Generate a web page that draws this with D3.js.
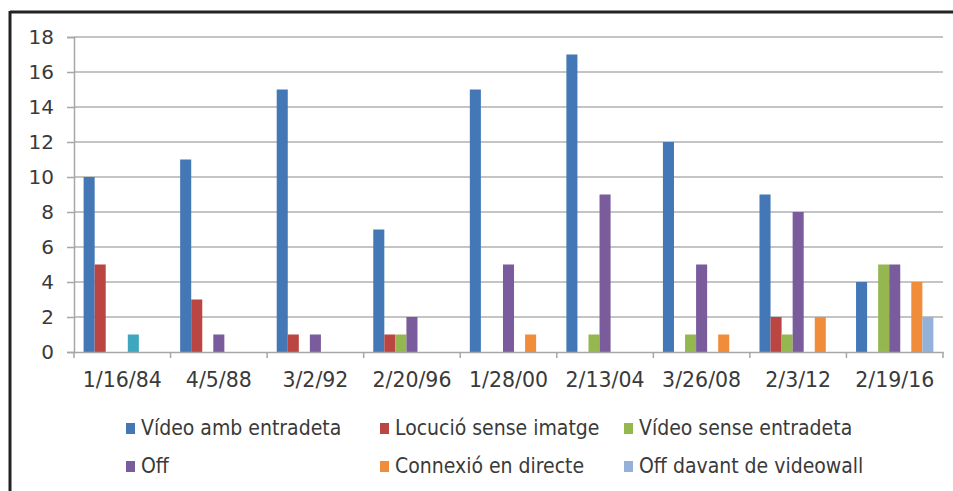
<!DOCTYPE html>
<html>
<head>
<meta charset="utf-8">
<script src="https://cdn.jsdelivr.net/npm/d3@7"></script>
<style>
  body { margin: 0; background: #fff; }
  svg { display: block; }
</style>
</head>
<body>
<div id="chart"></div>
<script>
// categories and series
var dates = ['1/16/84', '4/5/88', '3/2/92', '2/20/96', '1/28/00', '2/13/04', '3/26/08', '2/3/12', '2/19/16'];
var seriesNames = ['Vídeo amb entradeta', 'Locució sense imatge', 'Vídeo sense entradeta', 'Off', '', 'Connexió en directe', 'Off davant de videowall'];
var seriesColors = ['#4377B5', '#BB4542', '#94B84F', '#7A5C9C', '#3FA6C0', '#F18D3A', '#93B1DA'];

var videoAmbEntradeta   = [10, 11, 15, 7, 15, 17, 12, 9, 4];
var locucioSenseImatge  = [5, 3, 1, 1, 0, 0, 0, 2, 0];
var videoSenseEntradeta = [0, 0, 0, 1, 0, 1, 1, 1, 5];
var off                 = [0, 1, 1, 2, 5, 9, 5, 8, 5];
var sensenom            = [1, 0, 0, 0, 0, 0, 0, 0, 0]; // aqua bar, not in legend
var connexioDirecte     = [0, 0, 0, 0, 1, 0, 1, 2, 4];
var offVideowall        = [0, 0, 0, 0, 0, 0, 0, 0, 2];

var yTicks = [0, 2, 4, 6, 8, 10, 12, 14, 16, 18];

var values = [videoAmbEntradeta, locucioSenseImatge, videoSenseEntradeta, off, sensenom, connexioDirecte, offVideowall];

var w = 953, h = 491;
var plotL = 74, plotR = 943, plotT = 37, plotB = 352;

var svg = d3.select('#chart').append('svg')
  .attr('width', w)
  .attr('height', h);

// frame lines (top and left)
svg.append('line').attr('x1', 10).attr('x2', w).attr('y1', 12).attr('y2', 12)
  .attr('stroke', '#222').attr('stroke-width', 3);
svg.append('line').attr('x1', 10).attr('x2', 10).attr('y1', 11).attr('y2', h)
  .attr('stroke', '#222').attr('stroke-width', 3);

var y = d3.scaleLinear().domain([0, 18]).range([plotB, plotT]);
var x0 = d3.scaleBand().domain(dates).range([plotL, plotR]).padding(0);
var x1 = d3.scaleBand().domain(d3.range(seriesNames.length))
  .range([9.6, x0.bandwidth() - 9.6]).padding(0);

// gridlines
svg.append('g').selectAll('line')
  .data(yTicks.filter(function(d) { return d > 0; }))
  .enter().append('line')
  .attr('x1', plotL).attr('x2', plotR)
  .attr('y1', function(d) { return y(d); })
  .attr('y2', function(d) { return y(d); })
  .attr('stroke', '#C4C4C4')
  .attr('stroke-width', 2);

// y axis
var yAxis = svg.append('g')
  .attr('transform', 'translate(' + plotL + ',0)')
  .call(d3.axisLeft(y).tickValues(yTicks).tickSize(7).tickPadding(13));
yAxis.select('.domain').attr('stroke', '#A6A6A6').attr('stroke-width', 1.5);
yAxis.selectAll('.tick line').attr('stroke', '#A6A6A6').attr('stroke-width', 1.5);
yAxis.selectAll('.tick text')
  .attr('fill', '#3a3a3a')
  .style('font-family', 'DejaVu Sans')
  .style('font-size', '20px');

// bars
var groups = svg.append('g').selectAll('g')
  .data(dates)
  .enter().append('g')
  .attr('transform', function(d) { return 'translate(' + x0(d) + ',0)'; });

groups.selectAll('rect')
  .data(function(d, i) {
    return values.map(function(s, k) { return { k: k, v: s[i] }; })
      .filter(function(e) { return e.v > 0; });
  })
  .enter().append('rect')
  .attr('x', function(d) { return x1(d.k); })
  .attr('width', x1.bandwidth())
  .attr('y', function(d) { return y(d.v); })
  .attr('height', function(d) { return plotB - y(d.v); })
  .attr('fill', function(d) { return seriesColors[d.k]; });

// x axis
var xAxis = svg.append('g')
  .attr('transform', 'translate(0,' + plotB + ')')
  .call(d3.axisBottom(x0).tickSize(0).tickPadding(20));
xAxis.select('.domain').attr('stroke', '#A6A6A6').attr('stroke-width', 1.5);
xAxis.selectAll('.tick text')
  .attr('fill', '#3a3a3a')
  .style('font-family', 'DejaVu Sans')
  .style('font-size', '20.5px');
// category separators
xAxis.append('g').selectAll('line')
  .data(dates.concat(['end']))
  .enter().append('line')
  .attr('x1', function(d, i) { return plotL + i * x0.bandwidth(); })
  .attr('x2', function(d, i) { return plotL + i * x0.bandwidth(); })
  .attr('y1', 0).attr('y2', 6)
  .attr('stroke', '#A6A6A6').attr('stroke-width', 1.5);

// legend (aqua series has no entry)
var legendItems = seriesNames.map(function(n, k) { return { name: n, k: k }; })
  .filter(function(d) { return d.name !== ''; });
var colX = [126, 380, 624];
var rowY = [435, 473];

var legend = svg.append('g').selectAll('g')
  .data(legendItems)
  .enter().append('g')
  .attr('transform', function(d, i) {
    return 'translate(' + colX[i % 3] + ',' + rowY[Math.floor(i / 3)] + ')';
  });
legend.append('rect')
  .attr('x', 0).attr('y', -12)
  .attr('width', 9).attr('height', 11)
  .attr('fill', function(d) { return seriesColors[d.k]; });
legend.append('text')
  .attr('x', 15)
  .attr('y', 0)
  .attr('fill', '#3a3a3a')
  .style('font-family', '"DejaVu Sans Condensed", sans-serif')
  .style('font-size', '21px')
  .text(function(d) { return d.name; });
</script>
</body>
</html>
